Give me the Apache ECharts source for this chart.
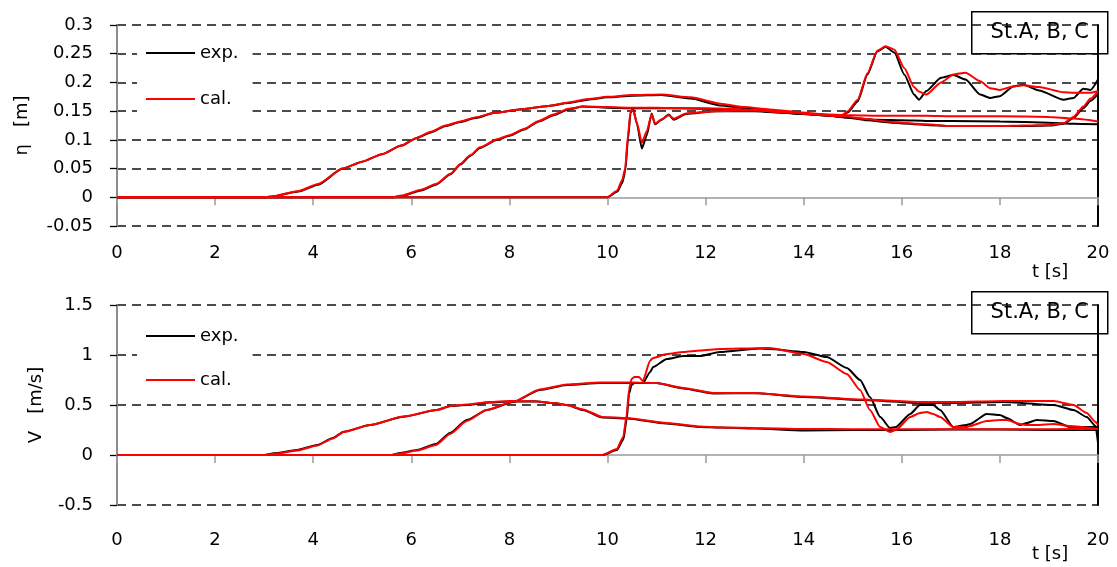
<!DOCTYPE html>
<html><head><meta charset="utf-8">
<script src="https://cdn.jsdelivr.net/npm/echarts@6/dist/echarts.min.js"></script>
<style>html,body{margin:0;padding:0;background:#fff;}#c{width:1117px;height:567px;}</style>
</head><body><div id="c"></div>
<script>
// ---- Top panel: water level eta [m] ----
const etaA_t   = [0, 3.0, 3.2, 3.7, 4.1, 4.6, 5.0, 5.4, 5.8, 6.1, 6.4, 6.7, 7.0, 7.3, 7.7, 8.2, 8.8, 9.2, 9.6, 10.0, 10.5, 11.1, 11.7, 12.3, 12.8, 13.3, 13.8, 14.3, 14.8, 15.3, 15.8, 16.5, 17.0, 17.5, 18.0, 18.5, 19.0, 19.3, 19.5, 19.7, 19.85, 20.0];
const etaA_exp = [0, 0, 0.002, 0.01, 0.022, 0.05, 0.062, 0.075, 0.09, 0.103, 0.113, 0.124, 0.131, 0.138, 0.147, 0.153, 0.159, 0.164, 0.170, 0.174, 0.177, 0.178, 0.172, 0.160, 0.155, 0.152, 0.148, 0.144, 0.140, 0.134, 0.130, 0.126, 0.124, 0.124, 0.124, 0.124, 0.125, 0.128, 0.138, 0.155, 0.168, 0.180];
const etaA_cal = [0, 0, 0.002, 0.011, 0.023, 0.05, 0.062, 0.075, 0.09, 0.103, 0.114, 0.125, 0.132, 0.139, 0.147, 0.153, 0.159, 0.165, 0.171, 0.175, 0.178, 0.179, 0.174, 0.163, 0.157, 0.153, 0.149, 0.145, 0.141, 0.136, 0.131, 0.127, 0.124, 0.124, 0.124, 0.125, 0.126, 0.129, 0.140, 0.158, 0.172, 0.185];

const etaB_t   = [0, 5.6, 5.8, 6.2, 6.5, 6.8, 7.0, 7.2, 7.4, 7.75, 8.0, 8.3, 8.6, 8.9, 9.2, 9.5, 10.0, 10.5, 11.0, 11.5, 12.0, 12.5, 13.0, 13.5, 14.0, 14.5, 15.0, 15.5, 16.0, 16.5, 17.0, 18.0, 19.0, 19.5, 20.0];
const etaB_exp = [0, 0, 0.002, 0.012, 0.022, 0.04, 0.057, 0.072, 0.086, 0.100, 0.107, 0.118, 0.132, 0.143, 0.153, 0.158, 0.156, 0.155, 0.155, 0.155, 0.154, 0.153, 0.151, 0.148, 0.145, 0.142, 0.138, 0.135, 0.134, 0.133, 0.133, 0.132, 0.130, 0.128, 0.127];
const etaB_cal = [0, 0, 0.003, 0.013, 0.023, 0.041, 0.058, 0.073, 0.087, 0.101, 0.108, 0.119, 0.133, 0.144, 0.154, 0.158, 0.157, 0.156, 0.156, 0.155, 0.155, 0.154, 0.152, 0.149, 0.146, 0.144, 0.143, 0.142, 0.142, 0.142, 0.141, 0.141, 0.140, 0.137, 0.132];

const etaC_t   = [0, 10.0, 10.2, 10.3, 10.36, 10.42, 10.47, 10.52, 10.6, 10.7, 10.8, 10.9, 10.97, 11.1, 11.25, 11.35, 11.6, 12.2, 13.0, 13.8, 14.4, 14.75, 14.9, 15.1, 15.3, 15.5, 15.67, 15.85, 16.05, 16.25, 16.35, 16.5, 16.8, 17.05, 17.3, 17.6, 17.8, 18.0, 18.27, 18.48, 18.8, 19.3, 19.5, 19.7, 19.85, 20.0];
const etaC_exp = [0, 0, 0.01, 0.025, 0.045, 0.103, 0.147, 0.155, 0.128, 0.085, 0.108, 0.146, 0.127, 0.135, 0.144, 0.135, 0.145, 0.150, 0.150, 0.146, 0.143, 0.141, 0.148, 0.167, 0.214, 0.254, 0.262, 0.252, 0.214, 0.179, 0.170, 0.185, 0.208, 0.213, 0.205, 0.179, 0.173, 0.176, 0.193, 0.196, 0.186, 0.170, 0.173, 0.189, 0.187, 0.205];
const etaC_cal = [0, 0, 0.012, 0.03, 0.05, 0.11, 0.15, 0.152, 0.13, 0.095, 0.115, 0.144, 0.128, 0.136, 0.143, 0.137, 0.146, 0.150, 0.151, 0.147, 0.143, 0.141, 0.150, 0.170, 0.216, 0.255, 0.263, 0.257, 0.225, 0.192, 0.184, 0.179, 0.200, 0.214, 0.217, 0.202, 0.190, 0.187, 0.193, 0.195, 0.192, 0.183, 0.182, 0.182, 0.182, 0.185];

// ---- Bottom panel: velocity V [m/s] ----
const vA_t   = [0, 3.0, 3.2, 3.67, 4.08, 4.4, 4.62, 5.16, 5.84, 6.52, 6.8, 7.13, 7.6, 8.0, 8.5, 8.9, 9.17, 9.5, 9.9, 10.4, 11.2, 11.9, 12.3, 13.0, 14.0, 15.0, 16.0, 17.0, 18.0, 19.0, 20.0];
const vA_exp = [0, 0, 0.017, 0.05, 0.10, 0.17, 0.233, 0.30, 0.383, 0.45, 0.49, 0.50, 0.525, 0.535, 0.537, 0.52, 0.50, 0.45, 0.375, 0.365, 0.315, 0.28, 0.275, 0.265, 0.245, 0.25, 0.25, 0.255, 0.255, 0.25, 0.25];
const vA_cal = [0, 0, 0.012, 0.045, 0.095, 0.165, 0.23, 0.30, 0.385, 0.45, 0.49, 0.505, 0.53, 0.54, 0.537, 0.52, 0.50, 0.455, 0.38, 0.37, 0.32, 0.285, 0.275, 0.27, 0.26, 0.258, 0.258, 0.258, 0.258, 0.258, 0.26];

const vB_t   = [0, 5.6, 5.77, 6.12, 6.5, 6.79, 7.13, 7.54, 8.08, 8.62, 9.17, 9.85, 10.5, 11.0, 11.55, 12.16, 12.97, 14.0, 15.2, 16.4, 17.0, 18.07, 19.1, 19.5, 19.77, 19.95, 20.0];
const vB_exp = [0, 0, 0.02, 0.05, 0.11, 0.22, 0.35, 0.45, 0.53, 0.65, 0.70, 0.72, 0.72, 0.72, 0.665, 0.615, 0.62, 0.58, 0.55, 0.52, 0.52, 0.53, 0.50, 0.45, 0.38, 0.29, 0.12];
const vB_cal = [0, 0, 0.015, 0.045, 0.10, 0.21, 0.34, 0.45, 0.535, 0.655, 0.705, 0.725, 0.725, 0.72, 0.67, 0.62, 0.62, 0.585, 0.555, 0.53, 0.53, 0.54, 0.54, 0.50, 0.42, 0.33, 0.30];

const vC_t   = [0, 9.9, 10.19, 10.32, 10.39, 10.44, 10.49, 10.55, 10.64, 10.72, 10.87, 10.93, 11.21, 11.55, 11.89, 12.29, 13.1, 13.3, 14.0, 14.47, 14.88, 15.15, 15.35, 15.56, 15.76, 15.88, 16.17, 16.37, 16.51, 16.64, 16.78, 17.05, 17.32, 17.39, 17.73, 18.0, 18.14, 18.41, 18.55, 18.75, 19.09, 19.43, 20.0];
const vC_exp = [0, 0, 0.05, 0.15, 0.35, 0.615, 0.70, 0.72, 0.72, 0.72, 0.83, 0.88, 0.96, 0.99, 0.99, 1.03, 1.065, 1.06, 1.03, 0.98, 0.87, 0.75, 0.58, 0.38, 0.27, 0.28, 0.41, 0.50, 0.50, 0.50, 0.45, 0.28, 0.30, 0.31, 0.41, 0.40, 0.37, 0.30, 0.32, 0.35, 0.34, 0.28, 0.28];
const vC_cal = [0, 0, 0.06, 0.18, 0.40, 0.66, 0.76, 0.78, 0.78, 0.74, 0.945, 0.97, 1.01, 1.03, 1.045, 1.06, 1.068, 1.07, 1.01, 0.93, 0.81, 0.65, 0.45, 0.28, 0.23, 0.25, 0.38, 0.42, 0.43, 0.41, 0.38, 0.28, 0.28, 0.29, 0.34, 0.35, 0.35, 0.31, 0.30, 0.30, 0.31, 0.29, 0.26];

const xTicks = {min: 0, max: 20, interval: 2};
const etaTicks = {min: -0.05, max: 0.3, interval: 0.05};
const vTicks = {min: -0.5, max: 1.5, interval: 0.5};
const legendNames = ['exp.', 'cal.'];
const stationLabel = 'St.A, B, C';
const etaName = 'η   [m]';
const vName = 'V   [m/s]';
const tName = 't [s]';

const FONT = 'DejaVu Sans';
const FS = 18;
const pair = (t, v) => t.map((x, i) => [x, v[i]]);

function line(name, color, xi, t, v) {
  return {
    name: name, type: 'line', xAxisIndex: xi, yAxisIndex: xi,
    data: pair(t, v), symbol: 'none', showSymbol: false,
    smooth: 0.2, smoothMonotone: 'x',
    lineStyle: {color: color, width: 2}, itemStyle: {color: color},
    z: color === '#000' ? 2 : 3, animation: false
  };
}

function xAxis(gi, margin) {
  return {
    gridIndex: gi, type: 'value', min: xTicks.min, max: xTicks.max, interval: xTicks.interval,
    axisLine: {onZero: true, lineStyle: {color: '#9a9a9a', width: 1.5}},
    axisTick: {show: true, length: 8, lineStyle: {color: '#9a9a9a', width: 1.5}},
    axisLabel: {margin: margin, fontSize: FS, color: '#000', fontFamily: FONT},
    splitLine: {show: false}
  };
}
function splitColors(n, zeroIdx) {
  const a = [];
  for (let i = 0; i < n; i++) a.push(i === zeroIdx ? 'rgba(0,0,0,0)' : '#111');
  return a;
}
function yAxis(gi, ticks, name, nameGap, zeroIdx, n) {
  return {
    gridIndex: gi, type: 'value', min: ticks.min, max: ticks.max, interval: ticks.interval,
    name: name, nameLocation: 'middle', nameGap: nameGap,
    nameTextStyle: {fontSize: FS, color: '#000', fontFamily: FONT},
    axisLine: {show: true, lineStyle: {color: '#8c8c8c', width: 2}},
    axisTick: {show: true, length: 7, lineStyle: {color: '#000', width: 1.3}},
    axisLabel: {margin: 24, fontSize: FS, color: '#000', fontFamily: FONT},
    splitLine: {show: true, lineStyle: {color: splitColors(n, zeroIdx), width: 1.5, type: [9, 6]}}
  };
}
function rightAxis(gi, ticks) {
  return {
    gridIndex: gi, type: 'value', position: 'right', min: ticks.min, max: ticks.max, interval: ticks.interval,
    axisLine: {show: true, onZero: false, lineStyle: {color: '#000', width: 2}},
    axisTick: {show: false}, axisLabel: {show: false}, splitLine: {show: false}
  };
}
function legend(top, gap) {
  return {
    data: legendNames, orient: 'vertical', left: 137, top: top,
    backgroundColor: '#fff', padding: [6, 14, 9, 9], itemGap: gap,
    icon: 'rect', itemWidth: 49, itemHeight: 2,
    textStyle: {fontSize: FS, color: '#000', fontFamily: FONT},
    selectedMode: false
  };
}
function stationBox(top) {
  return {
    type: 'group', left: 971, top: top, z: 100,
    children: [
      {type: 'rect', shape: {x: 0, y: 0, width: 136, height: 42}, style: {fill: '#fff', stroke: '#000', lineWidth: 1.5}},
      {type: 'text', x: 68, y: 21, style: {text: stationLabel, fontSize: 21, fontFamily: FONT, fill: '#000', textAlign: 'center', textVerticalAlign: 'middle'}}
    ]
  };
}

const chart = echarts.init(document.getElementById('c'), null, {renderer: 'canvas'});
chart.setOption({
  animation: false,
  backgroundColor: '#fff',
  grid: [
    {left: 117, top: 25, width: 981, height: 201, containLabel: false},
    {left: 117, top: 305, width: 981, height: 200, containLabel: false}
  ],
  xAxis: [xAxis(0, 18), xAxis(1, 26)],
  yAxis: [
    yAxis(0, etaTicks, etaName, 86, 1, 8),
    yAxis(1, vTicks, vName, 72, 1, 5),
    rightAxis(0, etaTicks),
    rightAxis(1, vTicks)
  ],
  legend: [legend(38, 28), legend(321, 26)],
  graphic: [
    stationBox(11),
    stationBox(291),
    {type: 'text', left: 1032, top: 263, style: {text: tName, fontSize: FS, fontFamily: FONT, fill: '#000'}},
    {type: 'text', left: 1032, top: 545, style: {text: tName, fontSize: FS, fontFamily: FONT, fill: '#000'}}
  ],
  series: [
    line('exp.', '#000', 0, etaA_t, etaA_exp),
    line('exp.', '#000', 0, etaB_t, etaB_exp),
    line('exp.', '#000', 0, etaC_t, etaC_exp),
    line('exp.', '#000', 1, vA_t, vA_exp),
    line('exp.', '#000', 1, vB_t, vB_exp),
    line('exp.', '#000', 1, vC_t, vC_exp),
    line('cal.', '#ff0000', 0, etaA_t, etaA_cal),
    line('cal.', '#ff0000', 0, etaB_t, etaB_cal),
    line('cal.', '#ff0000', 0, etaC_t, etaC_cal),
    line('cal.', '#ff0000', 1, vA_t, vA_cal),
    line('cal.', '#ff0000', 1, vB_t, vB_cal),
    line('cal.', '#ff0000', 1, vC_t, vC_cal)
  ]
});
</script>
</body></html>
